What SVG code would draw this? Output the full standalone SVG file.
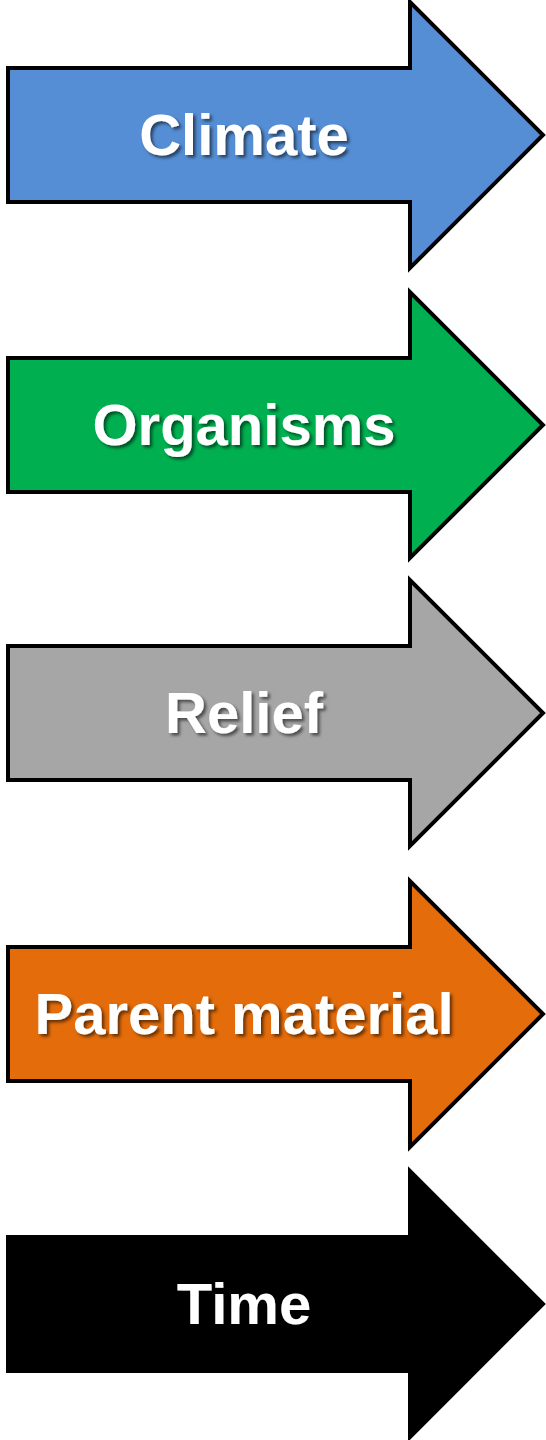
<svg xmlns="http://www.w3.org/2000/svg" width="546" height="1440" viewBox="0 0 546 1440">
<style>
.arrow{stroke:#000;stroke-width:4;stroke-linejoin:miter}
.lbl{font-family:"Liberation Sans",Arial,sans-serif;font-weight:bold;font-size:58px;fill:#fff;text-anchor:middle;filter:url(#sh)}
</style>
<defs>
<filter id="sh" x="-10%" y="-30%" width="120%" height="160%">
<feDropShadow dx="2.5" dy="2.5" stdDeviation="1.5" flood-color="#000" flood-opacity="0.55"/>
</filter>
<path id="ar" d="M8,-67 H410 V-133 L543,0 L410,133 V67 H8 Z"/>
</defs>
<g id="climate" transform="translate(0,135)">
<use href="#ar" class="arrow" fill="#558ED5"/>
<text class="lbl" x="244" y="20">Climate</text>
</g>
<g id="organisms" transform="translate(0,425)">
<use href="#ar" class="arrow" fill="#00B050"/>
<text class="lbl" x="244" y="20">Organisms</text>
</g>
<g id="relief" transform="translate(0,713)">
<use href="#ar" class="arrow" fill="#A6A6A6"/>
<text class="lbl" x="244" y="20">Relief</text>
</g>
<g id="parent-material" transform="translate(0,1014)">
<use href="#ar" class="arrow" fill="#E46C0A"/>
<text class="lbl" x="244" y="20">Parent material</text>
</g>
<g id="time" transform="translate(0,1304)">
<use href="#ar" class="arrow" fill="#000"/>
<text class="lbl" x="244" y="20">Time</text>
</g>
<g id="connectors"></g>
</svg>
